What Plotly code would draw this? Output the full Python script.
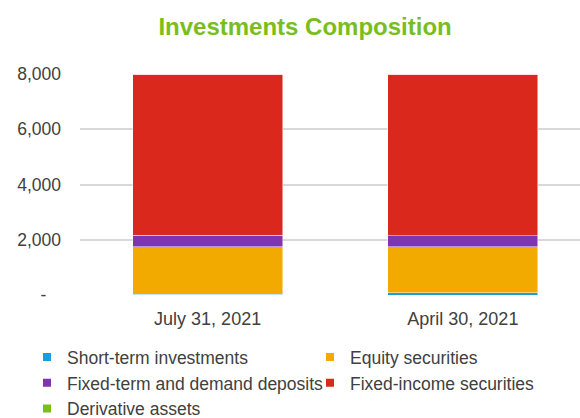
import plotly.graph_objects as go

# Reporting dates (x categories)
periods = ["July 31, 2021", "April 30, 2021"]

# Stacked components, bottom to top
short_term = [25, 83]
equity = [1721, 1663]
fixed_term = [412, 398]
fixed_income = [5840, 5852]
derivatives = [2, 2]

series = [
    ("Short-term investments", short_term, "#1a9fdb"),
    ("Equity securities", equity, "#f2a900"),
    ("Fixed-term and demand deposits", fixed_term, "#7f35b2"),
    ("Fixed-income securities", fixed_income, "#da291c"),
    ("Derivative assets", derivatives, "#78be20"),
]

y_ticks = [0, 2000, 4000, 6000, 8000]
y_tick_text = ["-\u00a0\u00a0\u00a0", "2,000", "4,000", "6,000", "8,000"]

FONT = "Liberation Sans, Arial, sans-serif"
TEXT = "#404040"

fig = go.Figure()
for name, vals, color in series:
    fig.add_trace(go.Bar(
        x=periods, y=vals, name=name, width=0.587,
        marker=dict(color=color, line=dict(color="rgba(255,255,255,0.6)", width=0.8)),
        showlegend=False,
    ))
# Small square legend keys
for name, vals, color in series:
    fig.add_trace(go.Scatter(
        x=[None], y=[None], mode="markers", name=name,
        marker=dict(symbol="square", size=8, color=color),
    ))

fig.update_layout(
    width=580, height=418,
    margin=dict(l=80, r=0, t=74, b=123, autoexpand=False),
    paper_bgcolor="white", plot_bgcolor="white",
    barmode="stack",
    title=dict(text="<b>Investments Composition</b>", x=0.526, xanchor="center",
               y=1 - 27 / 418, yanchor="middle", yref="container",
               font=dict(family=FONT, size=24, color="#78be20")),
    font=dict(family=FONT, color=TEXT),
    xaxis=dict(range=[-0.5, 1.459], showgrid=False, zeroline=False, showline=False,
               tickfont=dict(size=18, color=TEXT), ticklabelstandoff=11),
    yaxis=dict(range=[0, 8000], tickvals=y_ticks, ticktext=y_tick_text,
               showgrid=True, gridcolor="#d9d9d9", gridwidth=1.5, zeroline=False,
               showline=False, tickfont=dict(size=17.5, color=TEXT),
               ticklabelstandoff=18),
    legend=dict(orientation="h", xref="paper", yref="paper", traceorder="normal",
                x=-0.106, xanchor="left", y=-0.2, yanchor="top",
                entrywidth=238, font=dict(size=17.5, color=TEXT),
                bgcolor="rgba(0,0,0,0)"),
)

fig.write_html("out.html")
